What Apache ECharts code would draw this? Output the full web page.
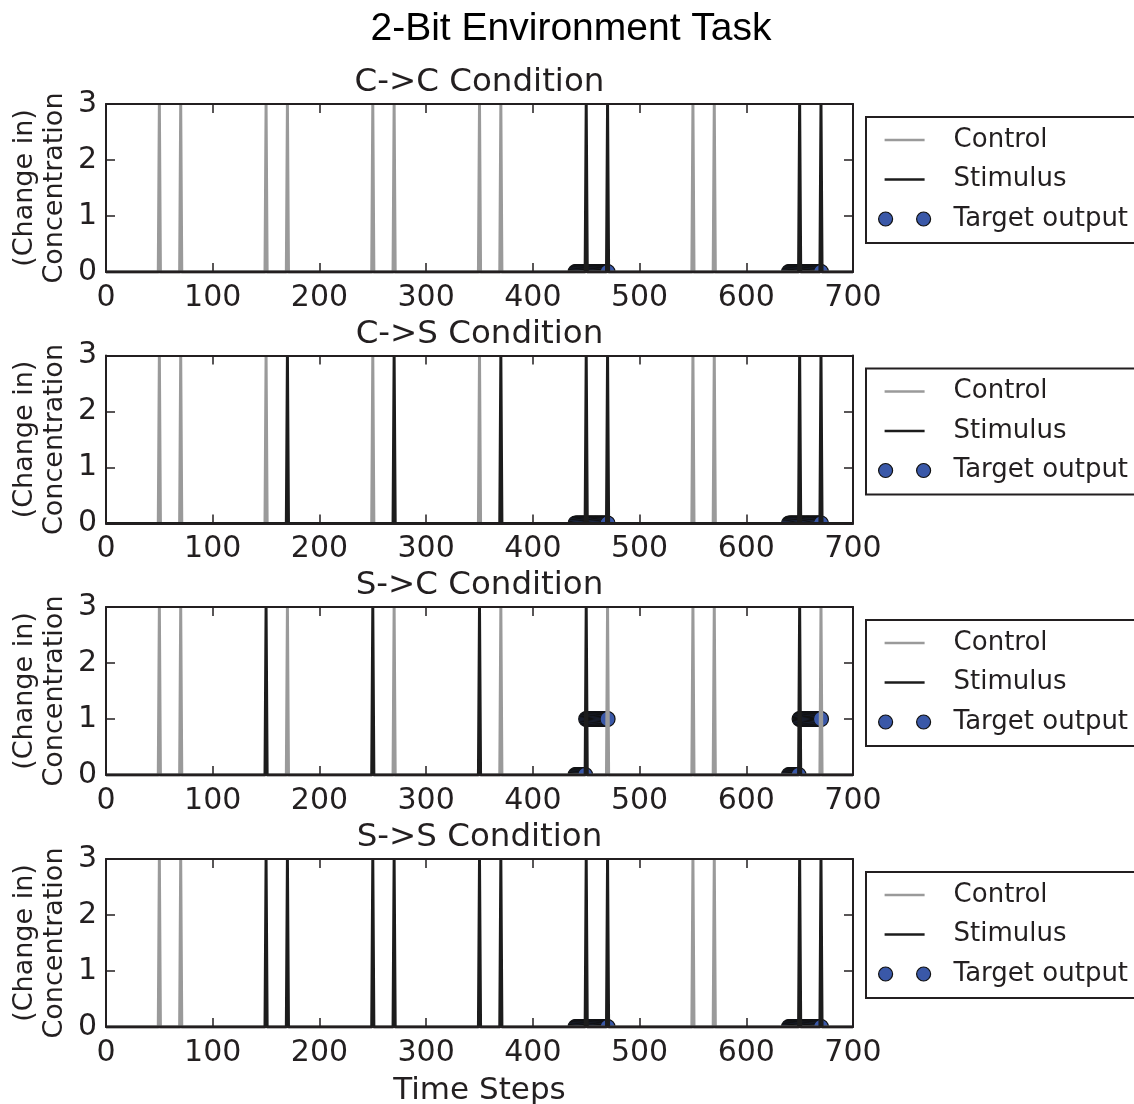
<!DOCTYPE html>
<html>
<head>
<meta charset="utf-8">
<title>2-Bit Environment Task</title>
<script src="https://cdn.jsdelivr.net/npm/echarts@6/dist/echarts.min.js"></script>
<style>
  html, body { margin: 0; padding: 0; background: #fff; }
  #chart { width: 1134px; height: 1104px; }
</style>
</head>
<body>
<div id="chart"></div>
<script>
// Panel titles
const conditions = ['C->C Condition', 'C->S Condition', 'S->C Condition', 'S->S Condition']

// Time steps where the control / stimulus inputs spike
const controlCC = [50, 70, 150, 170, 250, 270, 350, 370, 550, 570]
const stimulusCC = [450, 470, 650, 670]
const controlCS = [50, 70, 150, 250, 350, 550, 570]
const stimulusCS = [170, 270, 370, 450, 470, 650, 670]
const controlSC = [50, 70, 170, 270, 370, 470, 550, 570, 670]
const stimulusSC = [150, 250, 350, 450, 650]
const controlSS = [50, 70, 550, 570]
const stimulusSS = [150, 170, 250, 270, 350, 370, 450, 470, 650, 670]
const spikeHeight = 3

// Target output samples (time steps) at level 0 and level 1
const targetLowFull = [
  440, 441, 442, 443, 444, 445, 446, 447, 448, 449, 450, 451, 452, 453, 454, 455,
  456, 457, 458, 459, 460, 461, 462, 463, 464, 465, 466, 467, 468, 469, 470,
  640, 641, 642, 643, 644, 645, 646, 647, 648, 649, 650, 651, 652, 653, 654, 655,
  656, 657, 658, 659, 660, 661, 662, 663, 664, 665, 666, 667, 668, 669, 670
]
const targetLowSC = [
  440, 441, 442, 443, 444, 445, 446, 447, 448, 449,
  640, 641, 642, 643, 644, 645, 646, 647, 648, 649
]
const targetHighSC = [
  450, 451, 452, 453, 454, 455, 456, 457, 458, 459, 460, 461, 462, 463, 464, 465,
  466, 467, 468, 469, 470,
  650, 651, 652, 653, 654, 655, 656, 657, 658, 659, 660, 661, 662, 663, 664, 665,
  666, 667, 668, 669, 670
]
const targetHighNone = []

const panels = [
  { control: controlCC, stimulus: stimulusCC, low: targetLowFull, high: targetHighNone },
  { control: controlCS, stimulus: stimulusCS, low: targetLowFull, high: targetHighNone },
  { control: controlSC, stimulus: stimulusSC, low: targetLowSC, high: targetHighSC },
  { control: controlSS, stimulus: stimulusSS, low: targetLowFull, high: targetHighNone }
]

// Styling
const FONT = 'DejaVu Sans'
const TEXT_COLOR = '#231f20'
const FRAME_COLOR = '#231f20'
const CONTROL_COLOR = '#9a9a9a'
const STIMULUS_COLOR = '#1c1c1c'
const TARGET_COLOR = '#3a58a8'

const gridTops = [104, 355.5, 607, 859]
const gridLeft = 106
const gridWidth = 747
const gridHeight = 168

// Turn spike times into a line that sits at 0 and jumps up for one step
const spikeLine = (times) => {
  const pts = [[0, 0]]
  times.forEach(t => {
    pts.push([t - 1, 0], [t, spikeHeight], [t + 1, 0])
  })
  pts.push([700, 0])
  return pts
}

const grids = []
const xAxes = []
const yAxes = []
const series = []
const titles = []
const legends = []

const frameLine = { show: true, onZero: false, lineStyle: { color: FRAME_COLOR, width: 2 } }
const innerTick = { show: true, inside: true, length: 9, lineStyle: { color: FRAME_COLOR, width: 1.5 } }

titles.push({
  text: '2-Bit Environment Task',
  left: 571,
  top: 9,
  textAlign: 'center',
  padding: 0,
  textStyle: { fontFamily: 'Liberation Sans', fontSize: 39, fontWeight: 'normal', color: '#000', lineHeight: 40 }
})

panels.forEach((p, i) => {
  const top = gridTops[i]
  grids.push({ left: gridLeft, top: top, width: gridWidth, height: gridHeight, outerBoundsMode: 'none' })

  titles.push({
    text: conditions[i],
    left: gridLeft + gridWidth / 2,
    top: top - 38,
    textAlign: 'center',
    padding: 0,
    textStyle: { fontFamily: FONT, fontSize: 32.5, fontWeight: 'normal', color: TEXT_COLOR, lineHeight: 34 }
  })

  const last = i === panels.length - 1
  xAxes.push({
    gridIndex: i, type: 'value', position: 'bottom', min: 0, max: 700, interval: 100, z: 10,
    axisLine: frameLine, axisTick: innerTick, splitLine: { show: false },
    axisLabel: { fontFamily: FONT, fontSize: 30, color: TEXT_COLOR, margin: 11 },
    name: last ? 'Time Steps' : '',
    nameLocation: 'middle', nameGap: 48, nameMoveOverlap: false,
    nameTextStyle: { fontFamily: FONT, fontSize: 31, color: TEXT_COLOR }
  })
  xAxes.push({
    gridIndex: i, type: 'value', position: 'top', min: 0, max: 700, interval: 100, z: 10,
    axisLine: frameLine, axisTick: innerTick, splitLine: { show: false }, axisLabel: { show: false }
  })
  yAxes.push({
    gridIndex: i, type: 'value', position: 'left', min: 0, max: 3, interval: 1, z: 10,
    axisLine: frameLine, axisTick: innerTick, splitLine: { show: false },
    axisLabel: { fontFamily: FONT, fontSize: 30, color: TEXT_COLOR, margin: 9 },
    name: '(Change in)\nConcentration',
    nameLocation: 'middle', nameRotate: 90, nameGap: 36, nameMoveOverlap: false,
    nameTextStyle: { fontFamily: FONT, fontSize: 27, color: TEXT_COLOR, lineHeight: 30 }
  })
  yAxes.push({
    gridIndex: i, type: 'value', position: 'right', min: 0, max: 3, interval: 1, z: 10,
    axisLine: frameLine, axisTick: innerTick, splitLine: { show: false }, axisLabel: { show: false }
  })

  const ax = i * 2
  series.push({
    name: 'Control', type: 'line', xAxisIndex: ax, yAxisIndex: ax,
    data: spikeLine(p.control), symbol: 'none', clip: true,
    lineStyle: { color: CONTROL_COLOR, width: 3 }, itemStyle: { color: CONTROL_COLOR }
  })
  series.push({
    name: 'Stimulus', type: 'line', xAxisIndex: ax, yAxisIndex: ax,
    data: spikeLine(p.stimulus), symbol: 'none', clip: true,
    lineStyle: { color: STIMULUS_COLOR, width: 3 }, itemStyle: { color: STIMULUS_COLOR }
  })
  const targetData = p.low.map(t => [t, 0]).concat(p.high.map(t => [t, 1]))
  series.push({
    name: 'Target output', type: 'custom', xAxisIndex: ax, yAxisIndex: ax,
    data: targetData, clip: true, encode: { x: 0, y: 1 },
    itemStyle: { color: TARGET_COLOR, borderColor: '#111', borderWidth: 1.2 },
    renderItem: (params, api) => {
      const c = api.coord([api.value(0), api.value(1)])
      return {
        type: 'circle',
        shape: { cx: c[0], cy: c[1], r: 7.5 },
        style: { fill: TARGET_COLOR, stroke: '#111', lineWidth: 1.2 }
      }
    }
  })

  legends.push({
    orient: 'vertical',
    left: 866,
    top: top + 13,
    padding: [9, 20, 10, 12],
    itemGap: 11.5,
    itemWidth: 52,
    itemHeight: 14,
    symbolKeepAspect: true,
    selectedMode: false,
    borderColor: FRAME_COLOR,
    borderWidth: 2,
    backgroundColor: '#fff',
    textStyle: { fontFamily: FONT, fontSize: 26, color: TEXT_COLOR, lineHeight: 28, padding: [0, 0, 0, 18] },
    data: [
      { name: 'Control', icon: 'path://M0,0M52,14M6,5.75H46V8.25H6Z', itemStyle: { borderWidth: 0 } },
      { name: 'Stimulus', icon: 'path://M0,0M52,14M6,5.75H46V8.25H6Z', itemStyle: { borderWidth: 0 } },
      {
        name: 'Target output',
        icon: 'path://M0,7a7,7 0 1,0 14,0a7,7 0 1,0 -14,0zM38,7a7,7 0 1,0 14,0a7,7 0 1,0 -14,0z',
        itemStyle: { borderWidth: 1.2 }
      }
    ]
  })
})

const chart = echarts.init(document.getElementById('chart'))
chart.setOption({
  animation: false,
  backgroundColor: '#fff',
  title: titles,
  legend: legends,
  grid: grids,
  xAxis: xAxes,
  yAxis: yAxes,
  series: series
})
</script>
</body>
</html>
